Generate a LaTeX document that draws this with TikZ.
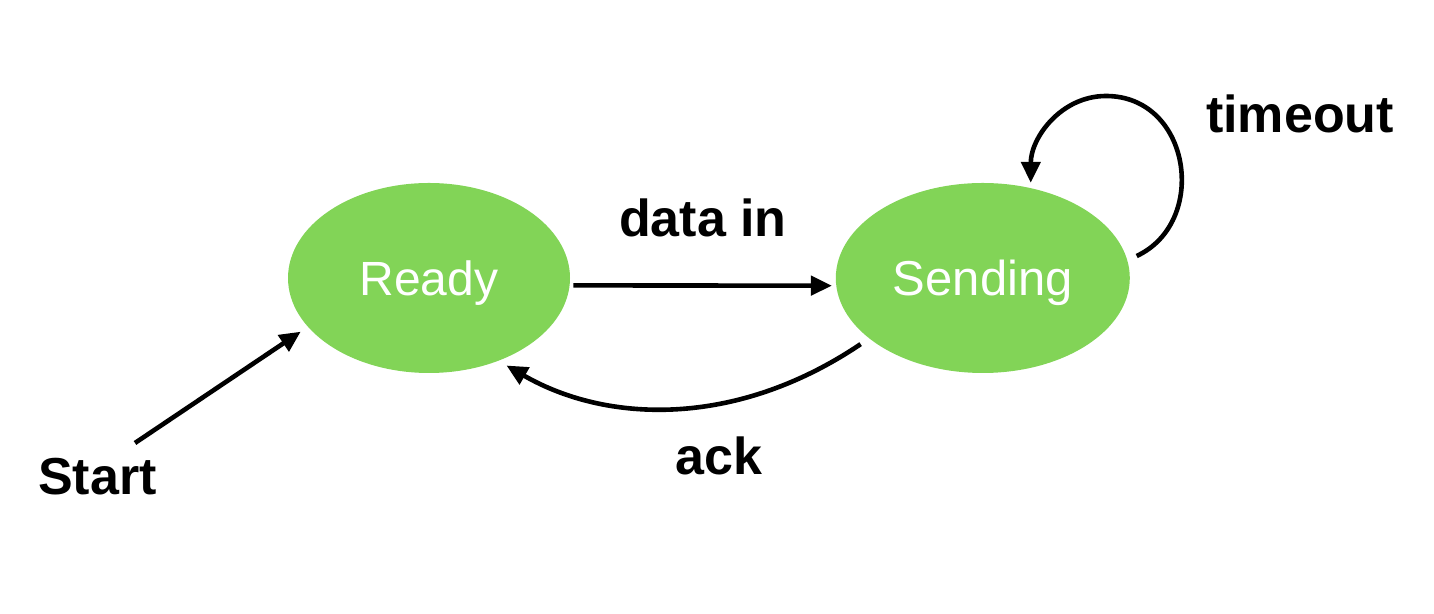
\documentclass[tikz,border=0pt]{standalone}
\usepackage{fontspec}
\setmainfont{Liberation Sans}
\usetikzlibrary{shapes, arrows.meta}
\usetikzlibrary{positioning}

\tikzset{
	state/.style={ellipse, fill=stategreen, draw=none, inner sep=0pt, minimum width=141pt, minimum height=95pt, text=white, text depth=0pt, font=\fontsize{24}{28}\selectfont},
	edgelabel/.style={inner sep=0pt, anchor=base, font=\bfseries\fontsize{26}{30}\selectfont},
	trans/.style={line width=2.3pt, -{Triangle[length=10.5pt, width=9.5pt]}}
}

\begin{document}
\begin{tikzpicture}[x=0.5pt, y=0.5pt]

	\definecolor{stategreen}{rgb}{0.51,0.83,0.34}
	\useasboundingbox (0,0) rectangle (1434,614);

	\node(ready)[state] at (429,336) {Ready};
	\node(sending)[state, minimum width=147pt, font=\fontsize{24.5}{28}\selectfont, right=132.5pt of ready] {Sending};

	\node(datain)[edgelabel] at (703,377) {data in};
	\node(ack)[edgelabel] at (719,139) {ack};
	\node(start)[edgelabel] at (97.5,119) {Start};
	\node(timeout)[edgelabel] at (1300,481) {timeout};

	\coordinate(starttail) at (135,171);
	\coordinate(looptop) at (1106,518);

	\draw[trans, shorten <=1.75pt, shorten >=2pt] (ready.-3) -- (sending.183);
	\draw[trans, shorten <=5pt, shorten >=4.5pt] (sending.208) .. controls +(214:160) and +(330:125) .. (ready.310);
	\draw[trans, shorten >=4.2pt] (starttail) -- (ready.202.5);
	\draw[trans, shorten <=5pt, shorten >=2.5pt] (sending.7) .. controls +(25:90) and +(0:85) .. (looptop) .. controls +(180:45) and +(90:50) .. (sending.62);

\end{tikzpicture}
\end{document}
